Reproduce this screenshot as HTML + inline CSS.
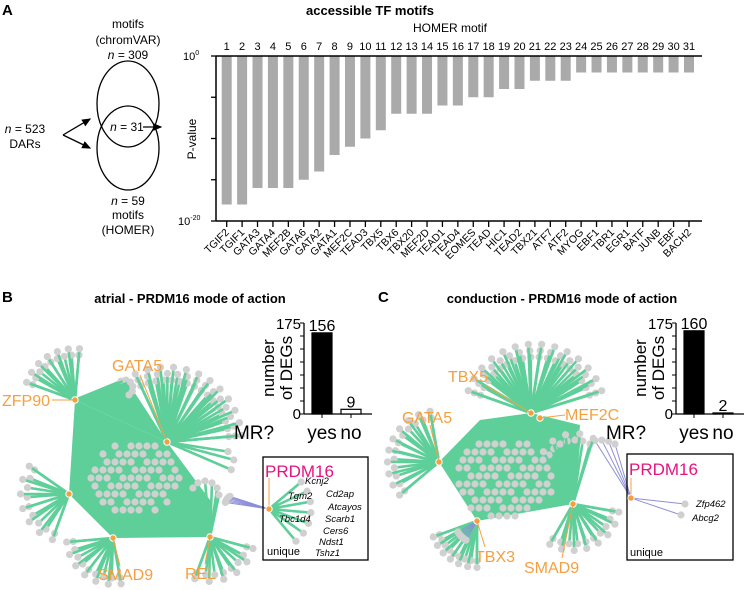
<!DOCTYPE html>
<html><head><meta charset="utf-8">
<style>
body{margin:0;background:#fff;}
svg{display:block;font-family:"Liberation Sans",Arial,sans-serif;}
</style></head>
<body>
<svg id="fig" width="748" height="590" viewBox="0 0 748 590" xmlns="http://www.w3.org/2000/svg">
<defs><marker id="ah" markerWidth="8" markerHeight="8" refX="6" refY="3" orient="auto"><path d="M0,0 L7,3 L0,6 z" fill="#000"/></marker></defs>
<g>
<text x="2" y="15" font-size="15" font-weight="bold">A</text>
<text x="128" y="28" font-size="12" text-anchor="middle">motifs</text>
<text x="128" y="44" font-size="12" text-anchor="middle">(chromVAR)</text>
<text x="128" y="59" font-size="12" text-anchor="middle"><tspan font-style="italic">n</tspan> = 309</text>
<ellipse cx="128" cy="104" rx="31" ry="43" fill="none" stroke="#000" stroke-width="1.3"/>
<ellipse cx="128" cy="148" rx="31" ry="42" fill="none" stroke="#000" stroke-width="1.3"/>
<text x="127" y="131" font-size="12" text-anchor="middle"><tspan font-style="italic">n</tspan> = 31</text>
<line x1="143" y1="127" x2="161" y2="127" stroke="#000" stroke-width="1.3" marker-end="url(#ah)"/>
<text x="25" y="133" font-size="12" text-anchor="middle"><tspan font-style="italic">n</tspan> = 523</text>
<text x="25" y="148" font-size="12" text-anchor="middle">DARs</text>
<line x1="63" y1="135" x2="90" y2="119" stroke="#000" stroke-width="1.3" marker-end="url(#ah)"/>
<line x1="63" y1="135" x2="90" y2="148" stroke="#000" stroke-width="1.3" marker-end="url(#ah)"/>
<text x="128" y="205" font-size="12" text-anchor="middle"><tspan font-style="italic">n</tspan> = 59</text>
<text x="128" y="219" font-size="12" text-anchor="middle">motifs</text>
<text x="128" y="234" font-size="12" text-anchor="middle">(HOMER)</text>
</g>
<g id="barA">
<text x="370" y="15" font-size="13" font-weight="bold" text-anchor="middle">accessible TF motifs</text>
<text x="450" y="32" font-size="12" text-anchor="middle">HOMER motif</text>
<text x="196" y="139" font-size="12" text-anchor="middle" transform="rotate(-90 196 139)">P-value</text>
<text x="183" y="60" font-size="11">10<tspan font-size="7" dy="-5">0</tspan></text>
<text x="178" y="225" font-size="11">10<tspan font-size="7" dy="-5">-20</tspan></text>
</g>
<g id="netB">
<text x="2" y="302" font-size="15" font-weight="bold">B</text>
<text x="190" y="303" font-size="13" font-weight="bold" text-anchor="middle">atrial - PRDM16 mode of action</text>
</g>
<g id="netC">
<text x="378" y="302" font-size="15" font-weight="bold">C</text>
<text x="562" y="303" font-size="13" font-weight="bold" text-anchor="middle">conduction - PRDM16 mode of action</text>
</g>
</svg>
<script>
const motifNumbers = ["1","2","3","4","5","6","7","8","9","10","11","12","13","14","15","16","17","18","19","20","21","22","23","24","25","26","27","28","29","30","31"];
const motifNames = ["TGIF2","TGIF1","GATA3","GATA4","MEF2B","GATA6","GATA2","GATA1","MEF2C","TEAD3","TBX5","TBX6","TBX20","MEF2D","TEAD1","TEAD4","EOMES","TEAD","HIC1","TEAD2","TBX21","ATF7","ATF2","MYOG","EBF1","TBR1","EGR1","BATF","JUNB","EBF","BACH2"];
const log10P = [-18,-18,-16,-16,-16,-15,-14,-12,-11,-10,-9,-7,-7,-7,-6,-6,-5,-5,-4,-4,-3,-3,-3,-2,-2,-2,-2,-2,-2,-2,-2];
const yTickVals = [0,-5,-10,-15,-20];
const mrCats = ["yes","no"];
const atrialDEGs = [156,9];
const conductionDEGs = [160,2];
const degTicks = [0,25,50,75,100,125,150,175];

const NS="http://www.w3.org/2000/svg";
function el(tag,attrs,parent){const e=document.createElementNS(NS,tag);for(const k in attrs)e.setAttribute(k,attrs[k]);parent.appendChild(e);return e;}

(function(){
  const g=document.getElementById('barA');
  const x0=216,x1=702,yTop=56,yBot=221;
  const yS=v=>yTop+(0-v)/20*(yBot-yTop);
  const step=15.41, first=226.7;
  const xS=i=>first+i*step;
  for(let i=0;i<log10P.length;i++){
    const r=el('rect',{x:xS(i)-5,y:yTop,width:10,height:yS(log10P[i])-yTop,fill:'#aaaaaa'},g);
    
    
    const t=el('text',{x:xS(i),y:50,'font-size':11,'text-anchor':'middle'},g);t.textContent=motifNumbers[i];
    
    
    el('line',{x1:xS(i),y1:yBot,x2:xS(i),y2:yBot+6,stroke:'#000','stroke-width':1.3},g);
    const lx=xS(i)+3, ly=yBot+12;
    const n=el('text',{x:lx,y:ly,'font-size':10.5,'text-anchor':'end',transform:`rotate(-45 ${lx} ${ly})`},g);n.textContent=motifNames[i];
    
    
  }
  el('line',{x1:x0,y1:yTop,x2:x1,y2:yTop,stroke:'#000','stroke-width':1.5},g);
  el('line',{x1:x0,y1:yTop,x2:x0,y2:yBot,stroke:'#000','stroke-width':1.5},g);
  el('line',{x1:x0,y1:yBot,x2:x1,y2:yBot,stroke:'#000','stroke-width':1.5},g);
  for(const v of yTickVals){el('line',{x1:x0-5,y1:yS(v),x2:x0,y2:yS(v),stroke:'#000','stroke-width':1.3},g);}
})();

const GREEN='#5fcf9a', GRAY='#d0d0d0', PURPLE='#8d8fd8', ORANGE='#f5a040';
function fan(g,hx,hy,cx,cy,r,a0,a1,n,rows,color){
  for(let k=0;k<rows;k++){
    const rr=r+k*6.5, m=n-k*2;
    for(let i=0;i<m;i++){
      const a=(a0+(a1-a0)*(m===1?0.5:i/(m-1)))*Math.PI/180;
      const px=cx+rr*Math.cos(a), py=cy+rr*Math.sin(a);
      el('line',{x1:hx,y1:hy,x2:px,y2:py,stroke:color||GREEN,'stroke-width':color?1:2.6},g);
      el('circle',{cx:px,cy:py,r:3.6,fill:GRAY},g);
    }
  }
}
function cluster(g,cx,cy,rx,ry){
  for(let y=-ry;y<=ry;y+=8){for(let x=-rx;x<=rx;x+=8){
    const ox=x+((Math.round(y/8))%2?4:0);
    if((ox*ox)/(rx*rx)+(y*y)/(ry*ry)<=1 && ((ox*7+y*3)%5!==0)) el('circle',{cx:cx+ox,cy:cy+y,r:3.6,fill:GRAY},g);
  }}
}
function hub(g,x,y){el('circle',{cx:x,cy:y,r:3.2,fill:ORANGE,stroke:'#fff','stroke-width':1},g);}
function label(g,x,y,txt,name,size,color,anchor){const t=el('text',{x:x,y:y,'font-size':size||16,fill:color||ORANGE,'text-anchor':anchor||'start'},g);t.textContent=txt;return t;}
function inset(g,ox,vals,name){
  const yTop=323,yBot=414,max=175;const yS=v=>yBot-v/max*(yBot-yTop);
  const xs=[ox+18,ox+47];
  el('line',{x1:ox,y1:yTop,x2:ox,y2:yBot,stroke:'#000','stroke-width':1.3},g);
  el('line',{x1:ox,y1:yBot,x2:ox+68,y2:yBot,stroke:'#000','stroke-width':1.3},g);
  for(const t of degTicks){el('line',{x1:ox-4,y1:yS(t),x2:ox,y2:yS(t),stroke:'#000','stroke-width':1},g);}
  label(g,ox-3,yS(175)+6,'175','deg-tick-175',15,'#000','end');
  label(g,ox-3,yBot+5,'0','deg-tick-0',15,'#000','end');
  for(let i=0;i<vals.length;i++){
    const r=el('rect',{x:xs[i]-10,y:yS(vals[i]),width:20,height:yBot-yS(vals[i]),fill:i===0?'#000':'#fff',stroke:'#000','stroke-width':1.2},g);
    
    
    label(g,xs[i],yS(vals[i])-2,String(vals[i]),'deg-value',16,'#000','middle');
    el('line',{x1:xs[i],y1:yBot,x2:xs[i],y2:yBot+4,stroke:'#000'},g);
    label(g,xs[i],yBot+25,mrCats[i],'mr-category',19,'#000','middle');
  }
  label(g,ox-50,yBot+25,'MR?','mr-axis-title',19,'#000','middle');
  const t1=label(g,ox-30,368,'number','deg-axis-title',17,'#000','middle');t1.setAttribute('transform',`rotate(-90 ${ox-30} 368)`);
  const t2=label(g,ox-12,368,'of DEGs','deg-axis-title-2',17,'#000','middle');t2.setAttribute('transform',`rotate(-90 ${ox-12} 368)`);
}

(function(){
  const g=document.getElementById('netB');
  const H={z:[75,400],g:[167,442],l:[69,494],s:[113,538],r:[210,537],p:[269,509]};
  el('polygon',{points:`${H.z} ${H.g} 210,500 ${H.r} ${H.s} ${H.l}`,fill:GREEN},g);
  el('polygon',{points:`${H.z} 125,378 ${H.g}`,fill:GREEN},g);
  fan(g,...H.p,235,505,10,-120,-165,6,1,PURPLE);
  fan(g,...H.z,75,400,45,-160,-85,9,2);
  fan(g,...H.z,125,388,8,-120,60,6,1);
  fan(g,...H.g,167,442,62,-115,-5,16,3);
  fan(g,...H.l,69,494,42,110,215,9,2);
  fan(g,...H.s,113,538,40,80,175,9,2);
  fan(g,...H.r,210,537,38,15,110,8,2);
  fan(g,...H.r,205,495,14,-150,0,6,1);
  fan(g,...H.g,222,462,12,-60,40,3,1);
  cluster(g,135,478,44,40);
  el('rect',{x:263,y:457,width:105,height:103,fill:'none',stroke:'#000','stroke-width':1.3,},g);
  fan(g,...H.p,269,509,42,-40,50,7,1);
  el('line',{x1:269,y1:478,x2:269,y2:509,stroke:ORANGE,'stroke-width':1},g);
  for(const k in H) hub(g,...H[k]);
  label(g,2,406,'ZFP90','hub-zfp90');el('line',{x1:52,y1:400,x2:75,y2:400,stroke:ORANGE},g);
  label(g,112,371,'GATA5','hub-gata5');el('line',{x1:140,y1:375,x2:167,y2:442,stroke:ORANGE},g);
  label(g,98,580,'SMAD9','hub-smad9');el('line',{x1:113,y1:538,x2:120,y2:566,stroke:ORANGE},g);
  label(g,185,579,'REL','hub-rel');el('line',{x1:210,y1:537,x2:205,y2:564,stroke:ORANGE},g);
  label(g,265,477,'PRDM16','prdm16-label-b',17,'#e6137f');
  const genes=[["Kcnj2",305,484],["Tgm2",288,499],["Cd2ap",326,497],["Atcayos",328,510],["Scarb1",325,522],["Tbc1d4",279,522],["Cers6",323,534],["Ndst1",319,545],["Tshz1",315,556]];
  for(const [n,x,y] of genes){const t=label(g,x,y,n,'gene-'+n,9.5,'#000');t.setAttribute('font-style','italic');}
  label(g,267,555,'unique','unique-label-b',11,'#000');
  inset(g,304,atrialDEGs,'atrial');
})();

(function(){
  const g=document.getElementById('netC');
  const H={t5:[531,413],m:[540,418],ga:[439,462],t3:[477,521],s:[573,504],p:[631,498]};
  el('polygon',{points:`${H.t5} 580,425 ${H.s} ${H.t3} ${H.ga} 480,420`,fill:GREEN},g);
  fan(g,...H.p,600,470,30,-100,-60,4,1,PURPLE);
  fan(g,...H.t5,535,415,58,-160,-20,18,3);
  fan(g,...H.ga,439,462,45,140,260,12,2);
  fan(g,...H.t3,477,521,40,90,160,9,2);
  fan(g,...H.t3,477,521,22,120,150,5,1,PURPLE);
  fan(g,...H.s,573,504,40,10,120,10,2);
  fan(g,...H.s,575,470,30,-150,-60,7,2);
  cluster(g,505,478,50,42);
  el('rect',{x:627,y:454,width:106,height:106,fill:'none',stroke:'#000','stroke-width':1.3,},g);
  el('line',{x1:631,y1:498,x2:685,y2:504,stroke:PURPLE},g);el('circle',{cx:685,cy:504,r:3.6,fill:GRAY},g);
  el('line',{x1:631,y1:498,x2:681,y2:515,stroke:PURPLE},g);el('circle',{cx:681,cy:515,r:3.6,fill:GRAY},g);
  el('line',{x1:631,y1:478,x2:631,y2:498,stroke:ORANGE,'stroke-width':1},g);
  for(const k in H) hub(g,...H[k]);
  label(g,448,382,'TBX5','hub-tbx5');el('line',{x1:485,y1:385,x2:531,y2:413,stroke:ORANGE},g);
  label(g,565,420,'MEF2C','hub-mef2c');el('line',{x1:540,y1:418,x2:565,y2:415,stroke:ORANGE},g);
  label(g,402,423,'GATA5','hub-gata5-c');el('line',{x1:430,y1:425,x2:439,y2:462,stroke:ORANGE},g);
  label(g,475,562,'TBX3','hub-tbx3');el('line',{x1:477,y1:521,x2:485,y2:547,stroke:ORANGE},g);
  label(g,524,573,'SMAD9','hub-smad9-c');el('line',{x1:573,y1:504,x2:562,y2:558,stroke:ORANGE},g);
  label(g,629,475,'PRDM16','prdm16-label-c',17,'#e6137f');
  let t=label(g,696,507,'Zfp462','gene-Zfp462',9.5,'#000');t.setAttribute('font-style','italic');
  t=label(g,692,521,'Abcg2','gene-Abcg2',9.5,'#000');t.setAttribute('font-style','italic');
  label(g,630,556,'unique','unique-label-c',11,'#000');
  inset(g,676,conductionDEGs,'conduction');
})();
</script>
</body></html>
